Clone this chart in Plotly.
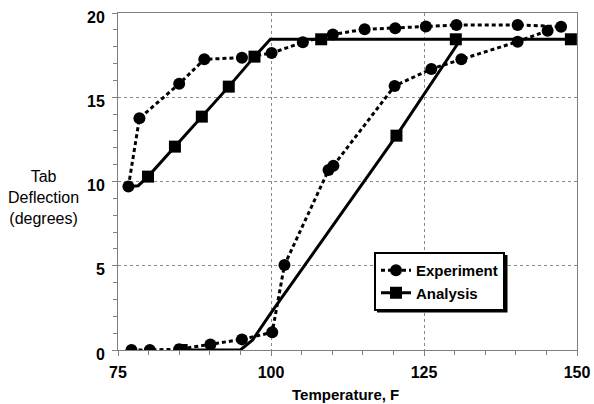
import plotly.graph_objects as go

# Experiment (upper branch, cooling) - temperature F, deflection deg
exp_up_T = [76.7, 78.5, 85.0, 89.1, 95.25, 100.1, 105.2, 110.1, 115.3, 120.3, 125.3, 130.3, 140.3, 147.4]
exp_up_D = [9.7, 13.75, 15.8, 17.25, 17.35, 17.62, 18.26, 18.73, 19.03, 19.1, 19.2, 19.29, 19.29, 19.19]
# Experiment (lower branch, heating)
exp_lo_T = [77.2, 80.2, 85.0, 90.1, 95.25, 100.2, 102.2, 109.4, 110.2, 120.2, 126.2, 131.1, 140.3, 145.2]
exp_lo_D = [0.0, 0.0, 0.05, 0.33, 0.63, 1.05, 5.04, 10.68, 10.94, 15.67, 16.68, 17.25, 18.3, 18.95]

# Analysis (upper branch) line vertices and marked points
ana_up_T = [77.0, 78.3, 79.9, 84.3, 88.7, 93.1, 97.3, 99.9, 108.2, 130.2, 149.0]
ana_up_D = [9.7, 9.75, 10.29, 12.07, 13.85, 15.63, 17.41, 18.44, 18.44, 18.44, 18.44]
ana_up_mark_T = [79.9, 84.3, 88.7, 93.1, 97.3, 108.2, 130.2, 149.0]
ana_up_mark_D = [10.29, 12.07, 13.85, 15.63, 17.41, 18.44, 18.44, 18.44]
# Analysis (lower branch)
ana_lo_T = [85.4, 95.0, 97.0, 100.0, 120.5, 131.0]
ana_lo_D = [0.0, 0.0, 0.6, 2.2, 12.72, 18.44]
ana_lo_mark_T = [85.4, 120.5]
ana_lo_mark_D = [0.0, 12.72]

x_ticks = [75, 100, 125, 150]
y_ticks = [0, 5, 10, 15, 20]

FONT = "Liberation Sans, Arial, sans-serif"
exp_line = dict(color="black", width=3, dash="4px,3px")
ana_line = dict(color="black", width=3)
MS = 12

fig = go.Figure()
fig.add_trace(go.Scatter(x=exp_up_T, y=exp_up_D, mode="lines+markers", name="Experiment",
                         line=exp_line, marker=dict(symbol="circle", size=MS, color="black"),
                         legendgroup="e", showlegend=True))
fig.add_trace(go.Scatter(x=exp_lo_T, y=exp_lo_D, mode="lines+markers", name="Experiment",
                         line=exp_line, marker=dict(symbol="circle", size=MS, color="black"),
                         legendgroup="e", showlegend=False))
fig.add_trace(go.Scatter(x=ana_up_T, y=ana_up_D, mode="lines", line=ana_line, showlegend=False))
fig.add_trace(go.Scatter(x=ana_lo_T, y=ana_lo_D, mode="lines", line=ana_line, showlegend=False))
fig.add_trace(go.Scatter(x=ana_up_mark_T + ana_lo_mark_T, y=ana_up_mark_D + ana_lo_mark_D, mode="markers",
                         marker=dict(symbol="square", size=MS, color="black"), showlegend=False))
fig.add_trace(go.Scatter(x=[None], y=[None], mode="lines+markers", name="Analysis",
                         line=ana_line, marker=dict(symbol="square", size=MS, color="black")))

axis_common = dict(showline=True, linecolor="#7f7f7f", linewidth=1, mirror=True,
                   showgrid=True, gridcolor="#8a8a8a", griddash="dot", gridwidth=1,
                   zeroline=False, ticks="outside", ticklen=5, tickcolor="#7f7f7f",
                   automargin=False,
                   tickfont=dict(family=FONT, size=16, color="black", weight="bold"))

fig.update_xaxes(range=[75, 150], tickvals=x_ticks, ticktext=[str(v) for v in x_ticks],
                 ticklabelstandoff=3,
                 minor=dict(dtick=5, tick0=75, ticks="outside", ticklen=4, tickcolor="#7f7f7f", showgrid=False),
                 **axis_common)
fig.update_yaxes(range=[0, 20], tickvals=y_ticks, ticktext=[str(v) for v in y_ticks],
                 ticklabelstandoff=4, ticklabelshift=4,
                 minor=dict(dtick=1, tick0=0, ticks="outside", ticklen=4, tickcolor="#7f7f7f", showgrid=False),
                 **axis_common)

fig.add_annotation(text="Temperature, F", xref="paper", yref="paper", x=(345 - 118) / 459, y=-(394 - 350) / 337,
                   showarrow=False, font=dict(family=FONT, size=15, color="black", weight="bold"),
                   xanchor="center", yanchor="middle")
fig.add_annotation(text="Tab<br>Deflection<br>(degrees)", xref="paper", yref="paper",
                   x=-(118 - 43) / 459, y=(350 - 197) / 337, showarrow=False,
                   font=dict(family=FONT, size=16, color="black"), xanchor="center", yanchor="middle", align="center")

# legend drop shadow
fig.add_shape(type="rect", xref="paper", yref="paper", layer="above",
              x0=(377 - 118) / 459, x1=(507.5 - 118) / 459, y0=(350 - 312.4) / 337, y1=(350 - 255) / 337,
              fillcolor="black", line=dict(width=0))

fig.update_layout(
    width=594, height=404, margin=dict(l=118, r=17, t=13, b=54, autoexpand=False),
    paper_bgcolor="white", plot_bgcolor="white",
    legend=dict(x=(374 - 118) / 459, y=(350 - 252) / 337, xanchor="left", yanchor="top",
                bgcolor="white", bordercolor="black", borderwidth=2,
                font=dict(family=FONT, size=15, color="black", weight="bold"),
                tracegroupgap=0, itemwidth=30),
    font=dict(family=FONT),
)

fig.write_html("out.html")
